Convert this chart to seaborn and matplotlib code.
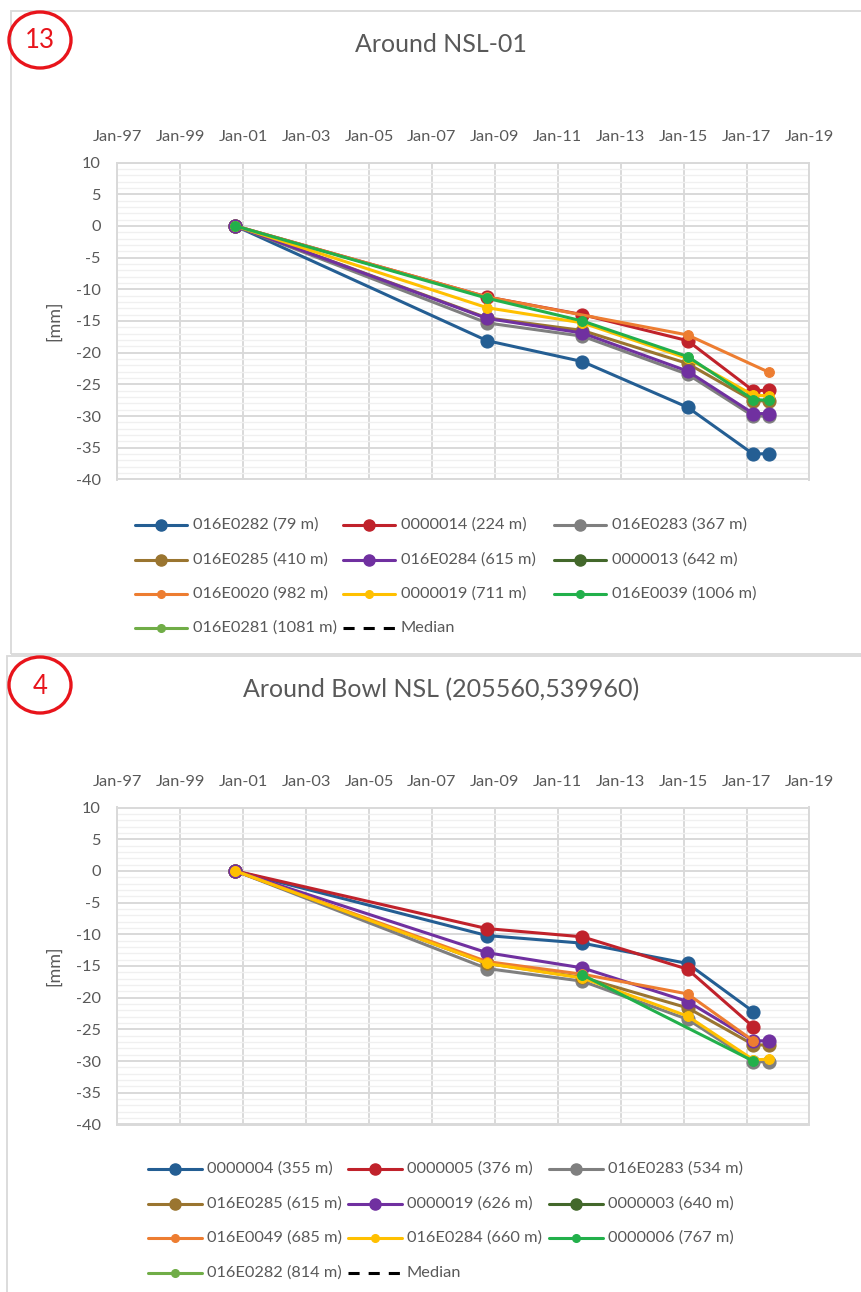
import numpy as np
import pandas as pd
import matplotlib
matplotlib.use("Agg")
import matplotlib.pyplot as plt
import matplotlib.dates as mdates
from matplotlib.lines import Line2D
from matplotlib.patches import Ellipse, Rectangle
import seaborn as sns

# ---------------------------------------------------------------- data
survey_dates = pd.to_datetime(["2000-10-01", "2008-10-01", "2011-10-15",
                               "2015-02-15", "2017-03-20", "2017-09-20"])
nan = np.nan

# Around NSL-01
nsl_labels = ["016E0282 (79 m)", "0000014 (224 m)", "016E0283 (367 m)",
              "016E0285 (410 m)", "016E0284 (615 m)", "0000013 (642 m)",
              "016E0020 (982 m)", "0000019 (711 m)", "016E0039 (1006 m)",
              "016E0281 (1081 m)"]
nsl_016E0282 = [0, -18.1, -21.4, -28.6, -36.0, -35.9]
nsl_0000014 = [0, -11.2, -14.0, -18.1, -26.0, -25.9]
nsl_016E0283 = [0, -15.3, -17.4, -23.4, -30.0, -30.0]
nsl_016E0285 = [0, -14.5, -16.5, -21.7, -27.6, -27.6]
nsl_016E0284 = [0, -14.6, -16.9, -22.9, -29.6, -29.6]
nsl_0000013 = [nan, nan, nan, nan, nan, nan]
nsl_016E0020 = [0, -11.2, nan, -17.2, nan, -23.1]
nsl_0000019 = [0, -12.9, -15.3, -20.9, -26.7, -26.8]
nsl_016E0039 = [0, -11.4, -15.0, -20.6, -27.4, -27.5]
nsl_016E0281 = [nan, nan, nan, nan, nan, nan]
nsl_values = [nsl_016E0282, nsl_0000014, nsl_016E0283, nsl_016E0285,
              nsl_016E0284, nsl_0000013, nsl_016E0020, nsl_0000019,
              nsl_016E0039, nsl_016E0281]

# Around Bowl NSL (205560,539960)
bowl_labels = ["0000004 (355 m)", "0000005 (376 m)", "016E0283 (534 m)",
               "016E0285 (615 m)", "0000019 (626 m)", "0000003 (640 m)",
               "016E0049 (685 m)", "016E0284 (660 m)", "0000006 (767 m)",
               "016E0282 (814 m)"]
bowl_0000004 = [0, -10.2, -11.4, -14.6, -22.2, nan]
bowl_0000005 = [0, -9.1, -10.4, -15.5, -24.6, nan]
bowl_016E0283 = [0, -15.4, -17.4, -23.4, -30.1, -30.1]
bowl_016E0285 = [0, -14.6, -16.8, -21.6, -27.4, -27.5]
bowl_0000019 = [0, -12.9, -15.3, -20.6, -26.8, -26.8]
bowl_0000003 = [nan, nan, nan, nan, nan, nan]
bowl_016E0049 = [0, -14.3, -16.3, -19.4, -26.8, nan]
bowl_016E0284 = [0, -14.6, -16.9, -22.9, -29.8, -29.7]
bowl_0000006 = [nan, nan, -16.4, nan, -30.0, nan]
bowl_016E0282 = [nan, nan, nan, nan, nan, nan]
bowl_values = [bowl_0000004, bowl_0000005, bowl_016E0283, bowl_016E0285,
               bowl_0000019, bowl_0000003, bowl_016E0049, bowl_016E0284,
               bowl_0000006, bowl_016E0282]

median_label = "Median"
year_ticks = list(range(1997, 2020, 2))

# ---------------------------------------------------------------- style
series_colors = ["#245E93", "#C0222B", "#7F7F7F", "#9A7530", "#7030A0",
                 "#43682B", "#ED7D31", "#FFC000", "#22B04B", "#70AD47"]
big_marker = [True, True, True, True, True, True, False, False, False, False]
TEXT = "#595959"
GRID_MAJOR = "#D9D9D9"
GRID_MINOR = "#F0F0F0"
FONT = ["Lato", "DejaVu Sans"]

sns.set_theme(style="white")
plt.rcParams["font.family"] = FONT
plt.rcParams["axes.unicode_minus"] = False
plt.rcParams["lines.scale_dashes"] = False

W, H = 862, 1292
fig = plt.figure(figsize=(W / 100, H / 100), dpi=100)
fig.patch.set_facecolor("white")


def fx(px):
    return px / W


def fy(py):
    return 1 - py / H


LW = 2.2
MS_BIG = 9.4
MS_SMALL = 7.0


def draw_panel(off, title, badge, labels, values, legend_cols, frame):
    # panel frame (left, top, bottom in pixels)
    fl, ft, fb = frame
    fig.add_artist(Rectangle((fx(fl), fy(fb)), 1.2, (fb - ft) / H,
                             transform=fig.transFigure, fill=False,
                             ec="#D9D9D9", lw=1.3))
    # numbered badge
    fig.add_artist(Ellipse((fx(40), fy(off + 40)), 62 / W, 56 / H,
                           transform=fig.transFigure, fill=False,
                           ec="#E8141B", lw=2.4))
    fig.text(fx(40), fy(off + 41), badge, color="#E8141B", fontsize=18.5,
             ha="center", va="center")
    fig.text(fx(441), fy(off + 45), title, color=TEXT, fontsize=18,
             ha="center", va="center")

    top, bottom, left, right = off + 162.5, off + 479.5, 117.3, 809.5
    ax = fig.add_axes([fx(left), fy(bottom), (right - left) / W,
                       (bottom - top) / H])
    ax.set_facecolor("white")

    rows = []
    for lab, vals in zip(labels, values):
        for d, v in zip(survey_dates, vals):
            rows.append({"station": lab, "date": d, "value": v})
    df = pd.DataFrame(rows).dropna()

    for i, lab in enumerate(labels):
        sub = df[df["station"] == lab]
        if sub.empty:
            continue
        sns.lineplot(data=sub, x="date", y="value", ax=ax,
                     color=series_colors[i], linewidth=LW, marker="o",
                     markersize=MS_BIG if big_marker[i] else MS_SMALL,
                     markeredgecolor=series_colors[i], markeredgewidth=0.8,
                     errorbar=None, legend=False, zorder=3 + i)

    ax.set_xlim(pd.Timestamp("1997-01-01"), pd.Timestamp("2019-01-01"))
    ax.set_ylim(-40, 10)
    ax.set_xticks([pd.Timestamp(f"{y}-01-01") for y in year_ticks])
    ax.xaxis.set_major_formatter(mdates.DateFormatter("%b-%y"))
    ax.xaxis.tick_top()
    ax.set_yticks(np.arange(-40, 11, 5))
    ax.set_yticks(np.arange(-40, 11, 1), minor=True)
    ax.grid(True, which="major", color=GRID_MAJOR, lw=1.4, zorder=0)
    ax.grid(True, which="minor", axis="y", color=GRID_MINOR, lw=1.0, zorder=0)
    ax.set_axisbelow(True)
    ax.tick_params(axis="both", which="both", length=0, labelsize=11.8,
                   labelcolor=TEXT)
    ax.tick_params(axis="x", pad=13)
    ax.tick_params(axis="y", pad=12)
    for s in ax.spines.values():
        s.set_color(GRID_MAJOR)
        s.set_linewidth(1.4)
    ax.set_xlabel("")
    ax.set_ylabel("[mm]", color=TEXT, fontsize=13)
    ax.yaxis.set_label_coords((62 - left) / (right - left), 0.5)

    # legend, filled row by row in three columns
    hx0, hlen, tx_gap, col_x, row_y = legend_cols
    entries = [(lab, i) for i, lab in enumerate(labels)] + [(median_label, None)]
    for k, (lab, i) in enumerate(entries):
        r, c = divmod(k, 3)
        x0 = hx0 + col_x[c]
        y = off + row_y[r]
        xs = [fx(x0), fx(x0 + hlen / 2), fx(x0 + hlen)]
        ys = [fy(y)] * 3
        if i is None:
            fig.add_artist(Line2D(xs, ys, transform=fig.transFigure,
                                  color="black", lw=LW, dashes=(8, 6.5)))
        else:
            fig.add_artist(Line2D(xs, ys, transform=fig.transFigure,
                                  color=series_colors[i], lw=LW, marker="o",
                                  markevery=[1],
                                  markersize=8.0 if big_marker[i] else 5.5,
                                  markeredgecolor=series_colors[i]))
        fig.text(fx(x0 + hlen + tx_gap), fy(y), lab, color=TEXT,
                 fontsize=11.8, ha="left", va="center")
    return ax


draw_panel(0, "Around NSL-01", "13", nsl_labels, nsl_values,
           (135, 52, 6, [0, 208, 419], [525, 560, 594, 628]), (11, 11, 654))
draw_panel(645, "Around Bowl NSL (205560,539960)", "4", bowl_labels,
           bowl_values, (148, 54, 5, [0, 200, 401], [524, 559, 593, 628]),
           (7, 656, 1310))

fig.savefig("out.png", dpi=100, facecolor="white")
